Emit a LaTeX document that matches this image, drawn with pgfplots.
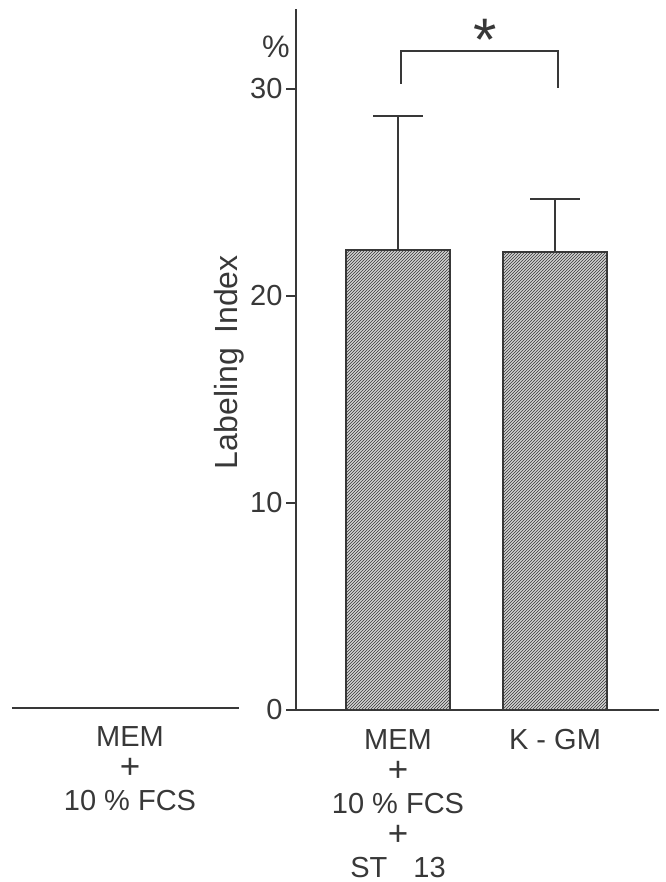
\documentclass[border=0pt]{standalone}
\usepackage{pgfplots}
\pgfplotsset{compat=1.18}
\usepackage{fontspec}
\setmainfont{Liberation Sans}
\usetikzlibrary{patterns}
\definecolor{ink}{gray}{0.22}
\newcommand{\bigplus}{{\fontsize{35}{32}\selectfont +}}
\begin{document}
\begin{tikzpicture}[x=1pt,y=1pt]
\useasboundingbox (0,0) rectangle (665,-882);
\begin{axis}[
  at={(296pt,-710pt)}, anchor=south west,
  scale only axis, width=363pt, height=701pt,
  xmin=0, xmax=363, ymin=0, ymax=33.86,
  axis x line=bottom, axis y line=left,
  axis line style={-, line width=2.6pt, draw=ink},
  clip=false,
  ytick={0,10,20,30},
  tick align=outside,
  major tick length=10pt,
  ytick style={line width=2pt, draw=ink},
  xtick={102,259},
  xticklabels={{MEM\\\bigplus\\10 \% FCS\\\bigplus\\ST\hspace{0.9em}13}, {K - GM}},
  xtick style={draw=none},
  xticklabel style={align=center, anchor=north, font=\fontsize{29}{32}\selectfont, text=ink, yshift=-6pt},
  yticklabel style={font=\fontsize{29}{32}\selectfont, text=ink},
  /pgf/number format/assume math mode=true,
  ylabel={Labeling\hspace{0.45em}Index},
  every axis y label/.style={at={(axis cs:-67,16.8)}, rotate=90, anchor=center, font=\fontsize{32}{34}\selectfont, text=ink},
]
\addplot[ybar, bar width=104, draw=ink, line width=2pt, fill=gray!35,
  postaction={pattern=north east lines, pattern color=ink},
  error bars/.cd, y dir=plus, y explicit,
  error bar style={line width=2pt, draw=ink},
  error mark options={rotate=90, mark size=25pt, line width=2pt, draw=ink}]
  coordinates {(102,22.2) +- (0,6.5) (259,22.1) +- (0,2.6)};
\addplot[ink, line width=2.6pt] coordinates {(-284,0.1) (-57,0.1)};
\addplot[ink, line width=2pt] coordinates {(105,30.24) (105,31.84) (262,31.84) (262,30.05)};
\node[anchor=base, font=\fontsize{31}{32}\selectfont, text=ink] at (axis cs:-20,31.5) {\%};
\node[anchor=base, font=\fontsize{60}{60}\selectfont, text=ink] at (axis cs:189,31.35) {*};
\node[align=center, anchor=north, font=\fontsize{29}{32}\selectfont, text=ink, yshift=-13pt] at (axis cs:-166,0) {MEM\\\bigplus\\10 \% FCS};
\end{axis}
\end{tikzpicture}
\end{document}
